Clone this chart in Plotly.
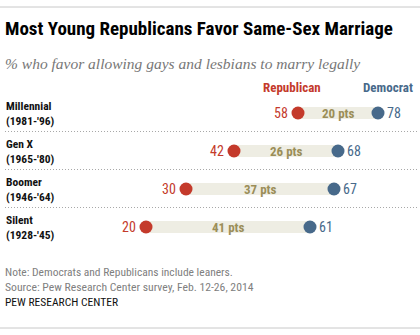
import plotly.graph_objects as go

# Survey values: share favoring same-sex marriage, by generation and party
generations = ["Millennial", "Gen X", "Boomer", "Silent"]
birth_years = ["(1981-'96)", "(1965-'80)", "(1946-'64)", "(1928-'45)"]
republican = [58, 42, 30, 20]
democrat = [78, 68, 67, 61]

RED = "#C43A2B"
BLUE = "#47698A"
BAND = "#EEEDE3"
OLIVE = "#9B8E58"
NARROW = "Liberation Sans Narrow, Arial Narrow, Roboto Condensed, Liberation Sans, Arial, sans-serif"

W, H = 420, 335
row_top, row_step = 113, 38
rows_y = [row_top + row_step * i for i in range(len(generations))]
gaps = [d - r for r, d in zip(republican, democrat)]

# x axis spans the full width; px() converts a pixel offset into data units
x0, x1 = -16.5, 88.5
px = lambda p: x0 + (x1 - x0) * p / W

fig = go.Figure()

# Gap bands between the two dots
fig.add_trace(go.Bar(
    orientation="h", y=rows_y, x=gaps, base=republican, width=12,
    marker=dict(color=BAND, line=dict(width=0)), hoverinfo="skip",
))
fig.add_trace(go.Scatter(
    x=republican, y=rows_y, mode="markers",
    marker=dict(size=13, color=RED, line=dict(width=0)), name="Republican",
))
fig.add_trace(go.Scatter(
    x=democrat, y=rows_y, mode="markers",
    marker=dict(size=13, color=BLUE, line=dict(width=0)), name="Democrat",
))

ann = []
for gen, yrs, r, d, g, yc in zip(generations, birth_years, republican, democrat, gaps, rows_y):
    ann.append(dict(x=r, y=yc, text=str(r), xanchor="right", yanchor="middle", xshift=-8,
                    showarrow=False, font=dict(family=NARROW, size=14, color=RED)))
    ann.append(dict(x=d, y=yc, text=str(d), xanchor="left", yanchor="middle", xshift=7,
                    showarrow=False, font=dict(family=NARROW, size=14, color=BLUE)))
    ann.append(dict(x=(r + d) / 2, y=yc, text=f"<b>{g} pts</b>", xanchor="center", yanchor="middle",
                    showarrow=False, font=dict(family=NARROW, size=13, color=OLIVE)))
    ann.append(dict(x=px(4), y=yc, text=f"<b>{gen}<br>{yrs}</b>",
                    xanchor="left", yanchor="middle", align="left", showarrow=False,
                    font=dict(family=NARROW, size=11.5, color="#111")))

ann += [
    dict(x=px(3), y=28, text="<b>Most Young Republicans Favor Same-Sex Marriage</b>", xanchor="left",
         yanchor="middle", showarrow=False, font=dict(family=NARROW, size=19, color="#000")),
    dict(x=px(3), y=63, text="<i>% who favor allowing gays and lesbians to marry legally</i>", xanchor="left",
         yanchor="middle", showarrow=False, font=dict(family="Liberation Serif, serif", size=15.5, color="#777")),
    dict(x=republican[0], y=87, text="<b>Republican</b>", xanchor="center", yanchor="middle", xshift=-6,
         showarrow=False, font=dict(family=NARROW, size=13, color=RED)),
    dict(x=democrat[0], y=87, text="<b>Democrat</b>", xanchor="center", yanchor="middle", xshift=10,
         showarrow=False, font=dict(family=NARROW, size=13, color=BLUE)),
    dict(x=px(3), y=272, text="Note: Democrats and Republicans include leaners.", xanchor="left",
         yanchor="middle", showarrow=False, font=dict(family=NARROW, size=11.5, color="#808080")),
    dict(x=px(3), y=287, text="Source: Pew Research Center survey, Feb. 12-26, 2014", xanchor="left",
         yanchor="middle", showarrow=False, font=dict(family=NARROW, size=11.7, color="#808080")),
    dict(x=px(3), y=302, text="PEW RESEARCH CENTER", xanchor="left",
         yanchor="middle", showarrow=False, font=dict(family=NARROW, size=11.5, color="#111")),
]

shapes = [
    dict(type="line", xref="paper", x0=0, x1=1, y0=7, y1=7, line=dict(color="#C8C8C8", width=1)),
    dict(type="line", xref="paper", x0=0, x1=1, y0=328, y1=328, line=dict(color="#C8C8C8", width=1)),
]
for yc0, yc1 in zip(rows_y[:-1], rows_y[1:]):
    ys = (yc0 + yc1) / 2 - 0.5
    shapes.append(dict(type="line", x0=px(5), x1=px(418), y0=ys, y1=ys,
                       line=dict(color="#A8A8A8", width=1, dash="1px,2px")))

fig.update_layout(
    width=W, height=H, margin=dict(l=0, r=0, t=0, b=0),
    paper_bgcolor="white", plot_bgcolor="white", showlegend=False,
    xaxis=dict(range=[x0, x1], visible=False, fixedrange=True),
    yaxis=dict(range=[H, 0], visible=False, fixedrange=True),
    annotations=ann, shapes=shapes,
)

fig.write_html("out.html")
